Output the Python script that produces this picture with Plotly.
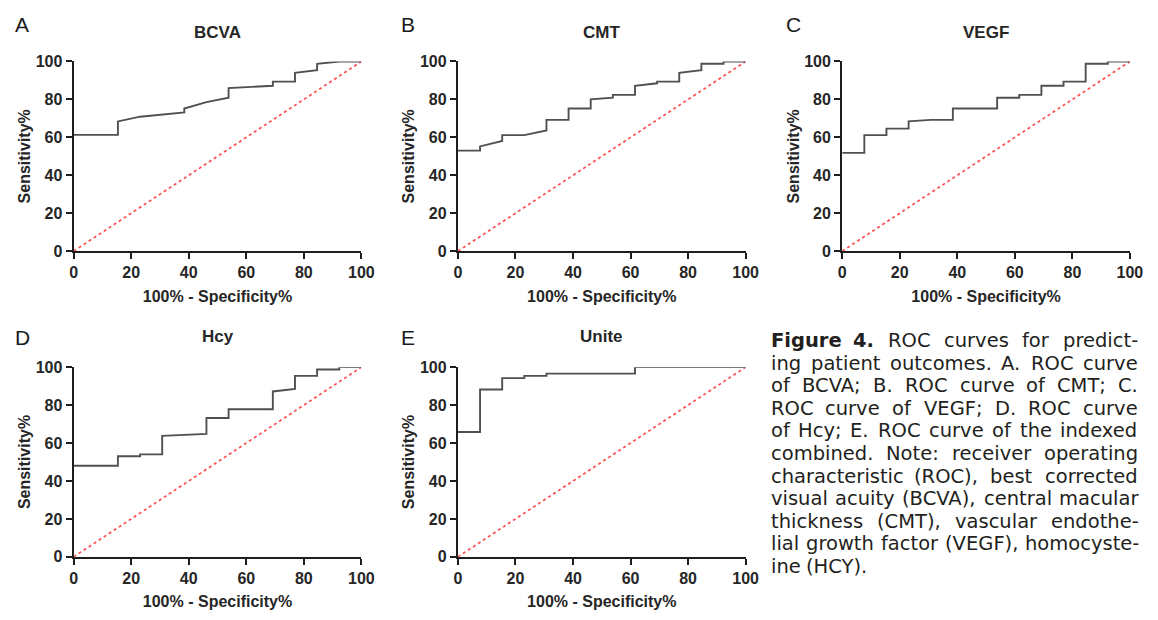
import plotly.graph_objects as go

W, H = 1158, 620

# ---------------- data ----------------
ticks = [0, 20, 40, 60, 80, 100]
tick_labels = ["0", "20", "40", "60", "80", "100"]

titles = ["BCVA", "CMT", "VEGF", "Hcy", "Unite"]
letters = ["A", "B", "C", "D", "E"]

bcva_fpr = [0, 15.38, 15.38, 23.08, 38.46, 38.46, 46.15, 53.85, 53.85, 69.23, 69.23, 76.92, 76.92, 84.62, 84.62, 92.31, 100]
bcva_tpr = [61.3, 61.3, 68.4, 70.9, 73.2, 75.2, 78.6, 80.9, 86.0, 87.2, 89.4, 89.4, 94.0, 95.4, 98.8, 100, 100]

cmt_fpr = [0, 7.69, 7.69, 15.38, 15.38, 23.08, 30.77, 30.77, 38.46, 38.46, 46.15, 46.15, 53.85, 53.85, 61.54, 61.54, 69.23, 69.23, 76.92, 76.92, 84.62, 84.62, 92.31, 92.31, 100]
cmt_tpr = [53.0, 53.0, 55.2, 58.1, 61.2, 61.2, 63.6, 69.2, 69.2, 75.2, 75.2, 80.0, 80.9, 82.4, 82.4, 87.2, 88.5, 89.4, 89.4, 94.0, 95.4, 98.8, 98.8, 100, 100]

vegf_fpr = [0, 7.69, 7.69, 15.38, 15.38, 23.08, 23.08, 30.77, 38.46, 38.46, 53.85, 53.85, 61.54, 61.54, 69.23, 69.23, 76.92, 76.92, 84.62, 84.62, 92.31, 92.31, 100]
vegf_tpr = [51.8, 51.8, 61.2, 61.2, 64.6, 64.6, 68.4, 69.2, 69.2, 75.2, 75.2, 80.9, 80.9, 82.4, 82.4, 87.2, 87.2, 89.4, 89.4, 98.8, 98.8, 100, 100]

hcy_fpr = [0, 15.38, 15.38, 23.08, 23.08, 30.77, 30.77, 46.15, 46.15, 53.85, 53.85, 69.23, 69.23, 76.92, 76.92, 84.62, 84.62, 92.31, 92.31, 100]
hcy_tpr = [48.0, 48.0, 53.0, 53.0, 54.0, 54.0, 63.8, 64.8, 73.2, 73.2, 77.8, 77.8, 87.2, 88.5, 95.4, 95.4, 98.8, 98.8, 100, 100]

unite_fpr = [0, 7.69, 7.69, 15.38, 15.38, 23.08, 23.08, 30.77, 30.77, 61.54, 61.54, 100]
unite_tpr = [65.8, 65.8, 88.2, 88.2, 94.2, 94.2, 95.4, 95.4, 96.6, 96.6, 100, 100]

ref_x = [0, 100]
ref_y = [0, 100]

caption_lines = [
    "Figure 4. ROC curves for predict-",
    "ing patient outcomes. A. ROC curve",
    "of BCVA; B. ROC curve of CMT; C.",
    "ROC curve of VEGF; D. ROC curve",
    "of Hcy; E. ROC curve of the indexed",
    "combined. Note: receiver operating",
    "characteristic (ROC), best corrected",
    "visual acuity (BCVA), central macular",
    "thickness (CMT), vascular endothe-",
    "lial growth factor (VEGF), homocyste-",
    "ine (HCY).",
]
caption_bold_words = 2  # "Figure 4."

# ---------------- layout geometry (page pixels) ----------------
fprs = [bcva_fpr, cmt_fpr, vegf_fpr, hcy_fpr, unite_fpr]
tprs = [bcva_tpr, cmt_tpr, vegf_tpr, hcy_tpr, unite_tpr]

col_x = [(70.7, 362.7), (460.7, 752.7), (850.7, 1142.7)]
row_y = [(55.0, 250.0), (369.3, 564.3)]
panel_pos = [(0, 0), (1, 0), (2, 0), (0, 1), (1, 1)]

def px(x):
    return x / W

def py(y):
    return 1 - y / H

FONT = "Liberation Sans, Arial, sans-serif"
AX = "#1e1e1e"
TXT = "#262626"

fig = go.Figure()
layout = dict(
    width=W, height=H,
    margin=dict(l=0, r=0, t=0, b=0),
    paper_bgcolor="white", plot_bgcolor="white",
    showlegend=False,
    annotations=[],
)

for i in range(5):
    c, r = panel_pos[i]
    x0, x1 = col_x[c]
    y0, y1 = row_y[r]
    sfx = "" if i == 0 else str(i + 1)
    xa, ya = "x" + sfx, "y" + sfx
    fig.add_trace(go.Scatter(x=ref_x, y=ref_y, mode="lines", xaxis=xa, yaxis=ya,
                             line=dict(color="#ff4d4d", width=1.7, dash="dot"),
                             cliponaxis=False, hoverinfo="skip"))
    fig.add_trace(go.Scatter(x=fprs[i], y=tprs[i], mode="lines", xaxis=xa, yaxis=ya,
                             line=dict(color="#505050", width=1.9),
                             cliponaxis=False))
    common = dict(
        range=[0, 100], tickvals=ticks, ticktext=tick_labels,
        showline=True, linecolor=AX, linewidth=2.2,
        ticks="outside", ticklen=6, tickwidth=2.2, tickcolor=AX,
        tickfont=dict(family=FONT, size=16, color=TXT, weight="bold"),
        showgrid=False, zeroline=False, fixedrange=True,
    )
    layout["xaxis" + sfx] = dict(
        common, domain=[px(x0), px(x1)], anchor=ya,
        title=dict(text="100% - Specificity%", standoff=10,
                   font=dict(family=FONT, size=16, color=TXT, weight="bold")),
    )
    layout["yaxis" + sfx] = dict(
        common, domain=[py(y1), py(y0)], anchor=xa,
        title=dict(text="Sensitivity%", standoff=1,
                   font=dict(family=FONT, size=16, color=TXT, weight="bold")),
    )
    ty = 25 if r == 0 else 338
    layout["annotations"].append(dict(
        text=titles[i], x=px((x0 + x1) / 2), y=py(ty), xref="paper", yref="paper",
        xanchor="center", yanchor="middle", showarrow=False,
        font=dict(family=FONT, size=17, color=TXT, weight="bold")))
    lx = [9, 401, 792][c]
    ly = 17 if r == 0 else 339
    layout["annotations"].append(dict(
        text=letters[i], x=px(lx), y=py(ly), xref="paper", yref="paper",
        xanchor="left", yanchor="middle", showarrow=False,
        font=dict(family=FONT, size=21, color="#1a1a1a")))

# ---------------- justified caption ----------------
CAP_FONT = "DejaVu Sans, sans-serif"
CAP_SIZE = 19.5
cap_left, cap_right = 776.0, 1148.0
cap_top, cap_step = 342.0, 23.2

dv = {' ': 651, '!': 821, '(': 799, ')': 799, ',': 651, '-': 739, '.': 651, ':': 690, ';': 690,
      'A': 1401, 'B': 1405, 'C': 1430, 'D': 1577, 'E': 1294, 'F': 1178, 'G': 1587, 'H': 1540,
      'I': 604, 'M': 1767, 'N': 1532, 'O': 1612, 'R': 1423, 'S': 1300, 'T': 1251, 'V': 1401, 'Y': 1251,
      'a': 1255, 'b': 1300, 'c': 1126, 'd': 1300, 'e': 1260, 'f': 721, 'g': 1300, 'h': 1298,
      'i': 569, 'j': 569, 'k': 1186, 'l': 569, 'm': 1995, 'n': 1298, 'o': 1253, 'p': 1300,
      'q': 1300, 'r': 842, 's': 1067, 't': 803, 'u': 1298, 'v': 1212, 'w': 1675, 'x': 1212,
      'y': 1212, 'z': 1075}

def text_w(s, bold=False):
    w = sum(dv.get(ch, 1303) for ch in s) / 2048.0 * CAP_SIZE
    return w * (1.12 if bold else 1.0)

for li, line in enumerate(caption_lines):
    words = line.split(" ")
    bolds = [li == 0 and wi < caption_bold_words for wi in range(len(words))]
    widths = [text_w(w_, b) for w_, b in zip(words, bolds)]
    last = li == len(caption_lines) - 1
    if last or len(words) == 1:
        gap = text_w(" ")
    else:
        gap = (cap_right - cap_left - sum(widths)) / (len(words) - 1)
    xcur = cap_left
    yc = cap_top + li * cap_step
    for w_, b, wd in zip(words, bolds, widths):
        layout["annotations"].append(dict(
            text=("<b>%s</b>" % w_) if b else w_, x=px(xcur), y=py(yc),
            xref="paper", yref="paper", xanchor="left", yanchor="middle",
            showarrow=False, font=dict(family=CAP_FONT, size=CAP_SIZE, color="#231f20")))
        xcur += wd + gap

fig.update_layout(**layout)
fig.write_html("out.html")
